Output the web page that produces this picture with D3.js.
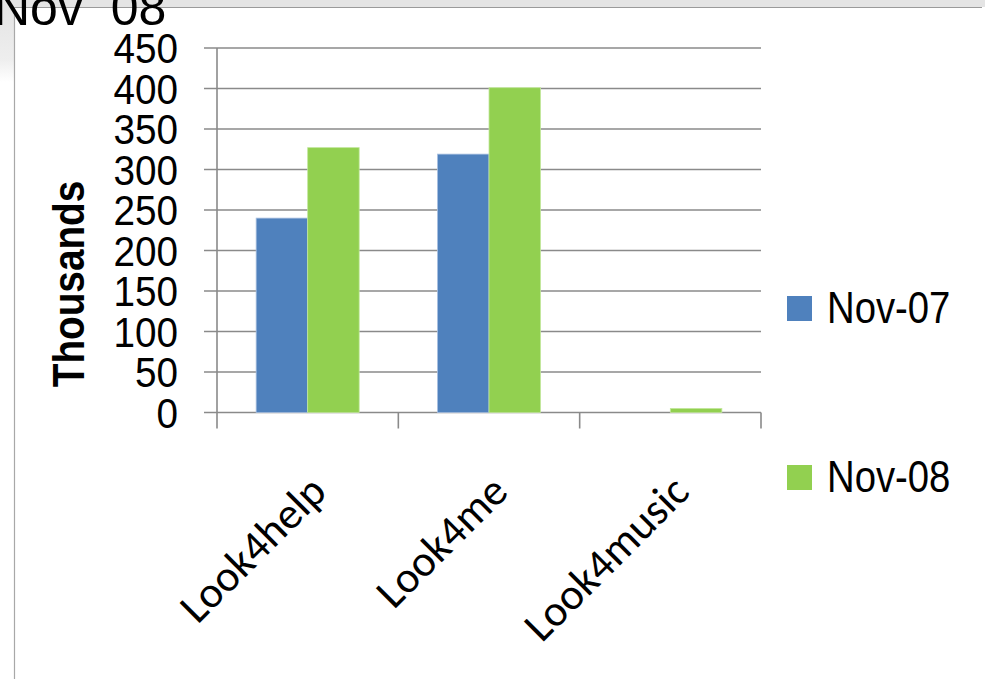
<!DOCTYPE html>
<html>
<head>
<meta charset="utf-8">
<script src="https://cdn.jsdelivr.net/npm/d3@7"></script>
<style>
  html, body { margin: 0; padding: 0; background: #fff; }
  svg { display: block; }
</style>
</head>
<body>
<svg id="chart" width="985" height="679"></svg>
<script>
// ---- data ----
const categories = ["Look4help", "Look4me", "Look4music"];
const seriesNames = ["Nov-07", "Nov-08"];
const nov07 = [240, 319, 0];
const nov08 = [327, 401, 5];
const yTicks = [0, 50, 100, 150, 200, 250, 300, 350, 400, 450];
const titleText = "Nov  08";
const yAxisTitle = "Thousands";
const colors = ["#4f81bd", "#92d050"];
const edgeColors = ["#a9c0e0", "#c2e79c"];

const svg = d3.select("#chart");

// ---- frame decoration ----
const defs = svg.append("defs");
const g1 = defs.append("linearGradient").attr("id", "leftGrad").attr("x1", 0).attr("y1", 0).attr("x2", 0).attr("y2", 1);
g1.append("stop").attr("offset", "0%").attr("stop-color", "#e4e4e4");
g1.append("stop").attr("offset", "70%").attr("stop-color", "#eeeeee");
g1.append("stop").attr("offset", "100%").attr("stop-color", "#ffffff");
svg.append("rect").attr("x", 0).attr("y", 0).attr("width", 985).attr("height", 7).attr("fill", "#e4e4e4");
svg.append("rect").attr("x", 0).attr("y", 7).attr("width", 14).attr("height", 75).attr("fill", "url(#leftGrad)");
svg.append("line").attr("x1", 14).attr("x2", 982).attr("y1", 7.5).attr("y2", 7.5).attr("stroke", "#9a9a9a").attr("stroke-width", 1.2);
svg.append("line").attr("x1", 14.5).attr("x2", 14.5).attr("y1", 7).attr("y2", 679).attr("stroke", "#a8a8a8").attr("stroke-width", 1.2);

// ---- title (cut off at the top) ----
svg.append("text")
  .attr("x", -6).attr("y", 25)
  .style("white-space", "pre")
  .attr("font-family", "Liberation Sans, Arial, sans-serif")
  .attr("font-size", 50)
  .attr("fill", "#000")
  .text(titleText);

// ---- scales ----
const plotLeft = 217, plotRight = 761, plotTop = 48, plotBottom = 412.5;
const x0 = d3.scaleBand().domain(categories).range([plotLeft, plotRight]).padding(0);
const x1 = d3.scaleBand().domain(seriesNames).range([0, x0.bandwidth()]).paddingInner(0).paddingOuter(0.76);
const y = d3.scaleLinear().domain([0, 450]).range([plotBottom, plotTop]);

const gridColor = "#8a8a8a";

// gridlines (extend left past axis as tick marks)
svg.append("g").selectAll("line").data(yTicks).join("line")
  .attr("x1", 204).attr("x2", plotRight)
  .attr("y1", d => y(d)).attr("y2", d => y(d))
  .attr("stroke", gridColor).attr("stroke-width", 1.6);

// y axis line
svg.append("line").attr("x1", plotLeft).attr("x2", plotLeft)
  .attr("y1", plotTop).attr("y2", plotBottom)
  .attr("stroke", gridColor).attr("stroke-width", 1.6);

// category tick marks
const catEdges = categories.map(c => x0(c)).concat([plotRight]);
svg.append("g").selectAll("line").data(catEdges).join("line")
  .attr("x1", d => d).attr("x2", d => d)
  .attr("y1", plotBottom).attr("y2", plotBottom + 16)
  .attr("stroke", gridColor).attr("stroke-width", 1.6);

// y tick labels
svg.append("g").selectAll("text").data(yTicks).join("text")
  .attr("transform", d => `translate(178,${y(d) + 15}) scale(0.9,1)`)
  .attr("text-anchor", "end")
  .attr("font-family", "Liberation Sans, Arial, sans-serif")
  .attr("font-size", 43)
  .attr("fill", "#000")
  .text(d => d);

// y axis title
svg.append("text")
  .attr("transform", "translate(84,284) rotate(-90) scale(0.88,1)")
  .attr("text-anchor", "middle")
  .attr("font-family", "Liberation Sans, Arial, sans-serif")
  .attr("font-weight", "bold")
  .attr("font-size", 44)
  .attr("fill", "#000")
  .text(yAxisTitle);

// ---- bars ----
const seriesData = [nov07, nov08];
const barG = svg.append("g");
categories.forEach((cat, i) => {
  seriesNames.forEach((s, j) => {
    const v = seriesData[j][i];
    if (v <= 0) return;
    barG.append("rect")
      .attr("x", x0(cat) + x1(s))
      .attr("y", y(v))
      .attr("width", x1.bandwidth())
      .attr("height", y(0) - y(v))
      .attr("fill", colors[j])
      .attr("stroke", edgeColors[j])
      .attr("stroke-width", 0.8);
  });
});

// ---- category labels ----
svg.append("g").selectAll("text").data(categories).join("text")
  .attr("transform", d => `translate(${x0(d) + x0.bandwidth() / 2 + 21},${494}) rotate(-45)`)
  .attr("text-anchor", "end")
  .attr("font-family", "Carlito, Calibri, Lato, sans-serif")
  .attr("font-weight", 300)
  .attr("font-size", 44)
  .attr("fill", "#000")
  .text(d => d);

// ---- legend ----
const legendY = [296, 465];
const legend = svg.append("g");
seriesNames.forEach((s, j) => {
  legend.append("rect")
    .attr("x", 787).attr("y", legendY[j])
    .attr("width", 25).attr("height", 25)
    .attr("fill", colors[j]);
  legend.append("text")
    .attr("transform", `translate(827,${legendY[j] + 27}) scale(0.87,1)`)
    .attr("font-family", "Liberation Sans, Arial, sans-serif")
    .attr("font-size", 44)
    .attr("fill", "#000")
    .text(s);
});
</script>
</body>
</html>
